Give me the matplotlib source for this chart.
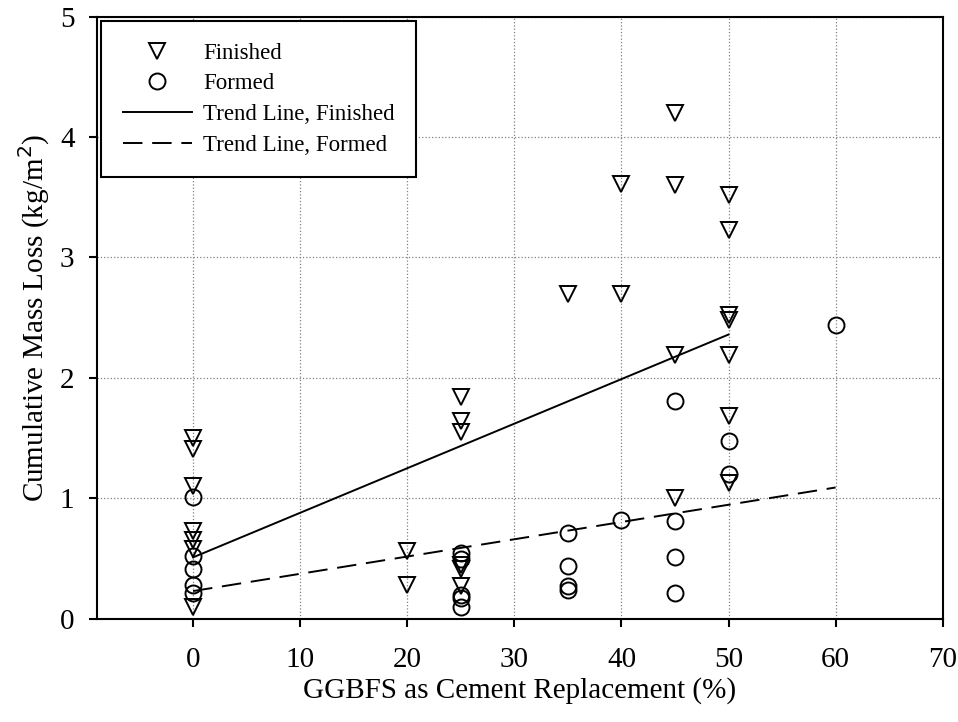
"""Cumulative mass loss vs GGBFS replacement: scatter of finished/formed surfaces with trend lines."""
import numpy as np
import matplotlib
matplotlib.use("Agg")
import matplotlib.pyplot as plt

# Finished surfaces (down triangles)
finished_x = [0, 0, 0, 0, 0, 0, 0,
              20, 20,
              25, 25, 25, 25, 25, 25,
              35,
              40, 40,
              45, 45, 45, 45,
              50, 50, 50, 50, 50, 50, 50]
finished_y = [1.50, 1.41, 1.10, 0.73, 0.65, 0.58, 0.10,
              0.56, 0.28,
              1.84, 1.64, 1.55, 0.45, 0.41, 0.27,
              2.70,
              3.61, 2.70,
              4.20, 3.60, 2.19, 1.00,
              3.52, 3.23, 2.52, 2.48, 2.19, 1.68, 1.13]

# Formed surfaces (open circles)
formed_x = [0, 0, 0, 0, 0,
            25, 25, 25, 25, 25,
            35, 35, 35, 35,
            40,
            45, 45, 45, 45,
            50, 50,
            60]
formed_y = [1.01, 0.52, 0.41, 0.28, 0.21,
            0.55, 0.50, 0.20, 0.17, 0.10,
            0.71, 0.44, 0.27, 0.24,
            0.82,
            1.81, 0.81, 0.51, 0.21,
            1.48, 1.20,
            2.44]

# Trend line end points
trend_finished_x = [0, 50]
trend_finished_y = [0.51, 2.36]
trend_formed_x = [0, 60]
trend_formed_y = [0.23, 1.09]

x_ticks = [0, 10, 20, 30, 40, 50, 60, 70]
y_ticks = [0, 1, 2, 3, 4, 5]

plt.rcParams["font.family"] = ["Liberation Serif", "DejaVu Serif"]

fig = plt.figure(figsize=(9.58, 7.22), dpi=100)
ax = fig.add_axes([0.101, 0.143, 0.883, 0.834])

ax.plot(trend_finished_x, trend_finished_y, color="black", lw=1.4, ls="-",
        label="Trend Line, Finished", zorder=2)
ax.plot(trend_formed_x, trend_formed_y, color="black", lw=1.4, ls=(0, (10, 5)),
        label="Trend Line, Formed", zorder=2)
ax.plot(finished_x, finished_y, ls="none", marker="v", ms=12, mfc="none",
        mec="black", mew=1.4, label="Finished", zorder=3)
ax.plot(formed_x, formed_y, ls="none", marker="o", ms=11.5, mfc="none",
        mec="black", mew=1.4, label="Formed", zorder=3)

ax.set_xlim(-9, 70)
ax.set_ylim(0, 5)
ax.set_xticks(x_ticks)
ax.set_yticks(y_ticks)
ax.grid(True, ls=":", color="0.5", lw=0.9)
ax.set_axisbelow(True)

for s in ax.spines.values():
    s.set_linewidth(1.5)
ax.tick_params(direction="out", length=6, width=1.5, labelsize=21, pad=10)
ax.tick_params(axis="x", pad=14)

ax.set_xlabel("GGBFS as Cement Replacement (%)", fontsize=21, labelpad=3)
ax.set_ylabel("Cumulative Mass Loss (kg/m$^2$)", fontsize=21, labelpad=6)

handles, labels = ax.get_legend_handles_labels()
order = [2, 3, 0, 1]
leg = ax.legend([handles[i] for i in order], [labels[i] for i in order],
                loc="upper left", bbox_to_anchor=(0.005, 0.993), fontsize=16.5,
                numpoints=1, handlelength=3.0, handletextpad=0.5,
                labelspacing=0.42, fancybox=False, framealpha=1,
                edgecolor="black", borderpad=0.95, borderaxespad=0.0)
leg.get_frame().set_linewidth(1.5)

fig.savefig("out.png", dpi=100)
